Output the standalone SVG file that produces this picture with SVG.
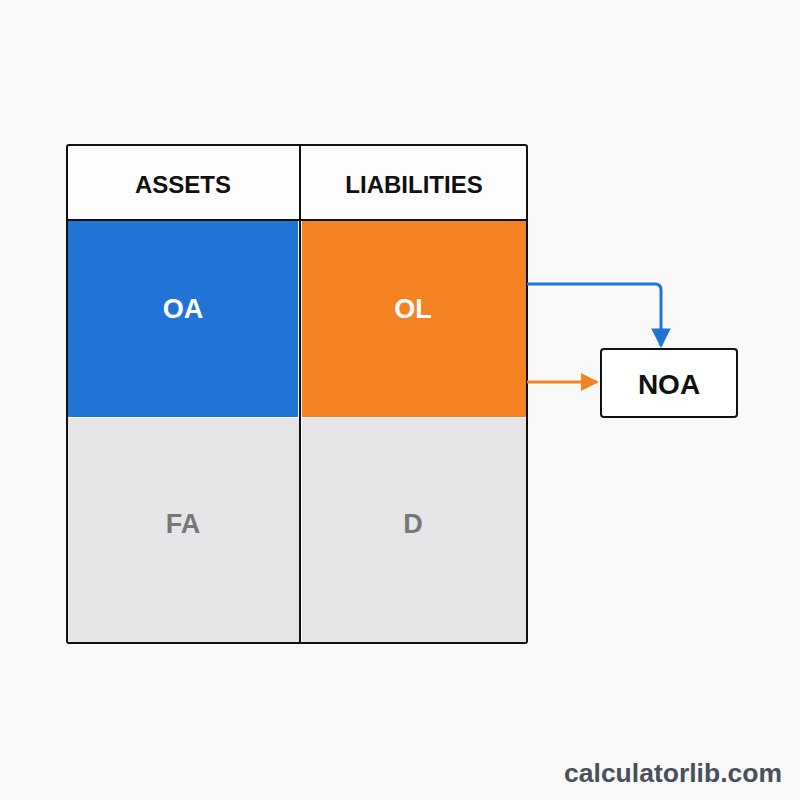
<svg xmlns="http://www.w3.org/2000/svg" width="800" height="800" viewBox="0 0 800 800">
<defs>
<style>
.lbl{font-family:"Liberation Sans",Arial,sans-serif;font-weight:bold;text-anchor:middle;dominant-baseline:central}
.hdr{font-size:24px;fill:#111}
.big{font-size:27px}
</style>
<marker id="ab" viewBox="0 0 10 10" refX="9" refY="5" markerWidth="6.5" markerHeight="6.5" orient="auto" markerUnits="strokeWidth"><path d="M0,0L10,5L0,10z" fill="#1f74d4"/></marker>
<marker id="ao" viewBox="0 0 10 10" refX="9" refY="5" markerWidth="6" markerHeight="6" orient="auto" markerUnits="strokeWidth"><path d="M0,0L10,5L0,10z" fill="#f38322"/></marker>
</defs>
<rect width="800" height="800" fill="#f9f9f9"/>
<g id="table">
<rect x="67" y="145" width="460" height="498" rx="2" fill="#fdfdfd" stroke="#111" stroke-width="2"/>
<g id="oa"><rect x="68" y="221" width="230" height="196" fill="#1f74d4"/><text class="lbl big" x="183" y="309" fill="#fff">OA</text></g>
<g id="ol"><rect x="302" y="221" width="224" height="196" fill="#f38322"/><text class="lbl big" x="413" y="309" fill="#fff">OL</text></g>
<g id="fa"><rect x="68" y="418" width="231" height="224" fill="#e6e6e8"/><text class="lbl big" x="183" y="524" fill="#777779">FA</text></g>
<g id="d"><rect x="302" y="418" width="224" height="224" fill="#e6e6e8"/><text class="lbl big" x="413" y="524" fill="#777779">D</text></g>
<line x1="67" y1="220" x2="527" y2="220" stroke="#111" stroke-width="2"/>
<line x1="300" y1="145" x2="300" y2="643" stroke="#111" stroke-width="2"/>
<g id="assets"><text class="lbl hdr" x="183" y="184">ASSETS</text></g>
<g id="liabilities"><text class="lbl hdr" x="414" y="184">LIABILITIES</text></g>
</g>
<g id="connectors" fill="none" stroke-width="3">
<path d="M527,284H655Q661,284 661,290V346" stroke="#1f74d4" marker-end="url(#ab)"/>
<path d="M527,382H597" stroke="#f38322" marker-end="url(#ao)"/>
</g>
<g id="noa">
<rect x="601" y="349" width="136" height="68" rx="3" fill="#fff" stroke="#111" stroke-width="2"/>
<text class="lbl" x="669" y="384" font-size="28" fill="#111">NOA</text>
</g>
<text x="782" y="782" font-family="'Liberation Sans',Arial,sans-serif" font-weight="bold" font-size="26.5" fill="#4a4f5c" text-anchor="end">calculatorlib.com</text>
</svg>
